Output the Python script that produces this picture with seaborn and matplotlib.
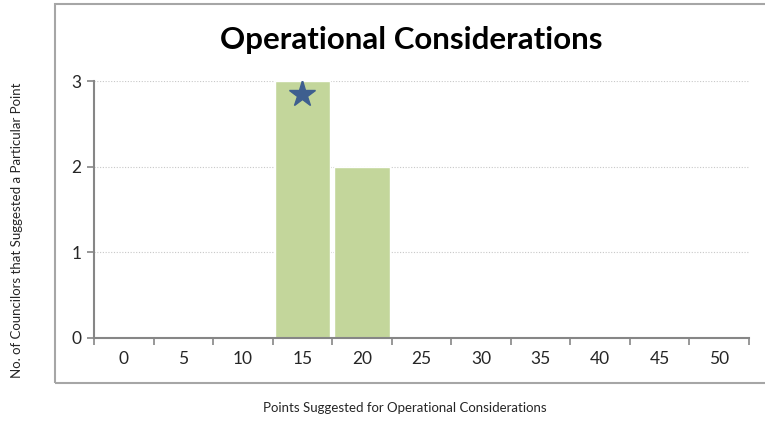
import matplotlib
matplotlib.use("Agg")
import matplotlib.pyplot as plt
import seaborn as sns
import pandas as pd
from matplotlib.patches import Rectangle

# data
points = ["0", "5", "10", "15", "20", "25", "30", "35", "40", "45", "50"]
councilors = [0, 0, 0, 3, 2, 0, 0, 0, 0, 0, 0]
star_point = "15"
star_value = 2.85

title = "Operational Considerations"
xlabel = "Points Suggested for Operational Considerations"
ylabel = "No. of Councilors that Suggested a Particular Point"

sns.set_style("white")
plt.rcParams['font.family'] = ['Lato', 'DejaVu Sans']

df = pd.DataFrame({"points": points, "councilors": councilors})

fig = plt.figure(figsize=(7.65, 4.22), dpi=100)
W, H = 765, 422

# outer chart frame
fig.patches.append(Rectangle((55 / W, 1 - 383 / H), (770 - 55) / W, (383 - 4) / H,
                             transform=fig.transFigure, fill=False,
                             edgecolor="#A6A6A6", linewidth=1.5))

ax = fig.add_axes([94 / W, 84 / H, (749 - 94) / W, 257 / H])
sns.barplot(data=df, x="points", y="councilors", color="#C3D69B", saturation=1,
            width=0.93, ax=ax, zorder=2)

ax.plot(points.index(star_point), star_value, marker="*", markersize=20,
        color="#3E5F8F", linestyle="none", zorder=3)

ax.set_xlim(-0.5, len(points) - 0.5)
ax.set_ylim(0, 3)
ax.set_yticks([0, 1, 2, 3])
ax.grid(axis="y", linestyle=(0, (1, 1.5)), color="#C8C8C8", linewidth=0.8, zorder=0)

# tick marks between categories like the original
ax.set_xticks([i - 0.5 for i in range(len(points) + 1)], minor=True)
ax.tick_params(axis="x", which="major", length=0, pad=9, labelsize=12.5)
ax.tick_params(axis="x", which="minor", length=5, width=1.2, color="#868686", direction="out")
ax.tick_params(axis="y", length=5, width=1.2, color="#868686", direction="out", labelsize=12.5, pad=4)
ax.xaxis.set_ticks_position("bottom")
ax.yaxis.set_ticks_position("left")

for s in ["top", "right"]:
    ax.spines[s].set_visible(False)
for s in ["left", "bottom"]:
    ax.spines[s].set_color("#868686")
    ax.spines[s].set_linewidth(1.5)

ax.set_xlabel("")
ax.set_ylabel("")
fig.text(411 / W, 1 - 40 / H, title, ha="center", va="center", fontsize=22.5,
         fontweight="bold", color="black")
fig.text(405 / W, 1 - 408 / H, xlabel, ha="center", va="center", fontsize=9.5)
fig.text(17 / W, 1 - 230 / H, ylabel, ha="center", va="center", rotation=90, fontsize=9.5)

fig.savefig("out.png", dpi=100)
